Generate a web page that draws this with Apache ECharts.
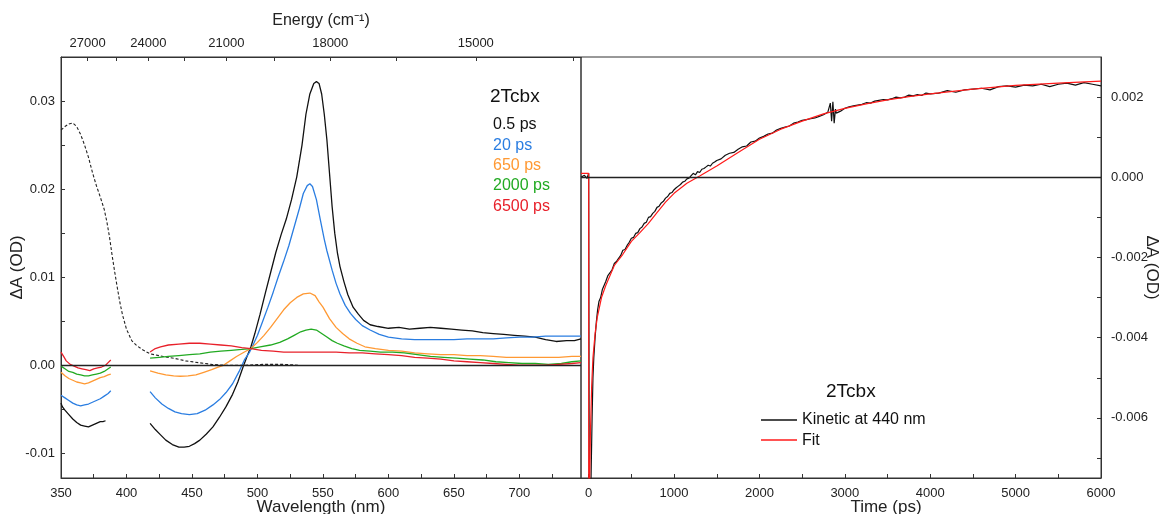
<!DOCTYPE html>
<html><head><meta charset="utf-8">
<script src="https://cdn.jsdelivr.net/npm/echarts@6/dist/echarts.min.js"></script>
<style>html,body{margin:0;padding:0;background:#fff}#c{width:1161px;height:514px}</style>
</head><body><div id="c"></div><script>
// ---------- tick labels ----------
const wlTicks = [350,400,450,500,550,600,650,700];
const wlMinor = [375,425,475,525,575,625,675,725];
const energyTicks = [27000,24000,21000,18000,15000];
const energyMinor = [25500,22500,19500,16500,13500];
const odTicksL = [-0.01,0,0.01,0.02,0.03];
const odMinorL = [-0.005,0.005,0.015,0.025];
const timeTicks = [0,1000,2000,3000,4000,5000,6000];
const timeMinor = [500,1500,2500,3500,4500,5500];
const odTicksR = [-0.006,-0.004,-0.002,0,0.002];
const odMinorR = [-0.007,-0.005,-0.003,-0.001,0.001];

// ---------- spectra (wavelength nm, dA OD) ----------
const delays = ['0.5 ps','20 ps','650 ps','2000 ps','6500 ps'];
const colors = ['#111111','#2a7de1','#ff9933','#22aa22','#e8202a'];

const s05_uv = [[350,-0.0043],[351,-0.0047],[353,-0.0051],[356,-0.0056],[359,-0.0061],[362,-0.0065],[365,-0.0068],[368,-0.0069],[371,-0.0070],[374,-0.0068],[377,-0.0066],[380,-0.0064],[382,-0.0064],[384,-0.0063]];
const s05_vis = [[418,-0.0066],[422,-0.0073],[426,-0.0079],[430,-0.0085],[435,-0.0090],[440,-0.0093],[444,-0.0093],[448,-0.0092],[452,-0.0089],[456,-0.0085],[461,-0.0078],[466,-0.0070],[471,-0.0059],[476,-0.0047],[481,-0.0033],[485,-0.0019],[489,-0.0002],[492,0.0010],[495,0.0021],[498,0.0036],[502,0.0058],[506,0.0082],[510,0.0105],[514,0.0128],[518,0.0148],[522,0.0166],[526,0.0188],[530,0.0214],[534,0.0250],[537,0.0285],[540,0.0308],[543,0.0320],[545,0.0322],[547,0.0320],[549,0.0308],[551,0.0285],[553,0.0256],[555,0.0218],[557,0.0180],[559,0.0150],[561,0.0128],[563,0.0112],[566,0.0095],[569,0.0080],[573,0.0066],[577,0.0058],[581,0.0051],[586,0.0046],[592,0.0044],[600,0.0042],[608,0.0043],[616,0.0041],[624,0.0042],[632,0.0043],[640,0.0042],[648,0.0041],[656,0.0040],[664,0.0039],[672,0.0037],[680,0.0036],[688,0.0035],[696,0.0034],[704,0.0033],[712,0.0032],[720,0.0029],[728,0.0027],[736,0.0028],[742,0.0028],[747,0.0030]];

const s20_uv = [[350,-0.0034],[353,-0.0037],[356,-0.0040],[359,-0.0043],[362,-0.0045],[365,-0.0046],[368,-0.0045],[371,-0.0044],[374,-0.0042],[377,-0.0040],[380,-0.0038],[383,-0.0035],[386,-0.0032],[388,-0.0029]];
const s20_vis = [[418,-0.0030],[422,-0.0037],[427,-0.0044],[432,-0.0049],[437,-0.0053],[442,-0.0055],[448,-0.0056],[454,-0.0055],[460,-0.0051],[466,-0.0045],[471,-0.0039],[476,-0.0031],[481,-0.0021],[486,-0.0007],[490,0.0006],[494,0.0015],[496,0.0021],[500,0.0034],[504,0.0050],[508,0.0066],[512,0.0083],[516,0.0101],[520,0.0118],[524,0.0136],[528,0.0157],[532,0.0178],[535,0.0195],[538,0.0204],[540,0.0206],[542,0.0203],[545,0.0188],[548,0.0165],[551,0.0143],[553,0.0130],[557,0.0108],[560,0.0093],[563,0.0081],[567,0.0068],[571,0.0059],[575,0.0052],[580,0.0045],[586,0.0040],[593,0.0035],[600,0.0032],[610,0.0030],[620,0.0029],[630,0.0029],[640,0.0029],[650,0.0029],[660,0.0030],[670,0.0030],[680,0.0030],[690,0.0031],[700,0.0032],[710,0.0032],[720,0.0033],[730,0.0033],[740,0.0033],[747,0.0033]];

const s650_uv = [[350,-0.0008],[353,-0.0012],[356,-0.0015],[359,-0.0017],[362,-0.0019],[365,-0.0020],[368,-0.0021],[371,-0.0020],[374,-0.0018],[377,-0.0016],[380,-0.0014],[383,-0.0013],[386,-0.0011],[388,-0.0010]];
const s650_vis = [[418,-0.00065],[424,-0.0009],[430,-0.0011],[436,-0.0012],[441,-0.00125],[447,-0.0012],[453,-0.0011],[459,-0.0008],[465,-0.0005],[470,-0.0002],[474,0.0000],[479,0.0005],[484,0.0010],[490,0.0015],[495,0.0019],[500,0.0026],[505,0.0034],[510,0.0043],[515,0.0053],[520,0.0063],[525,0.0071],[530,0.0077],[535,0.0081],[540,0.0082],[544,0.0079],[547,0.0072],[550,0.0066],[555,0.0053],[560,0.0043],[565,0.0036],[570,0.0030],[576,0.0025],[582,0.0021],[590,0.0019],[600,0.0017],[610,0.0016],[620,0.0014],[630,0.0013],[640,0.0012],[650,0.0012],[660,0.0011],[670,0.0011],[680,0.0010],[690,0.0009],[700,0.0009],[710,0.0009],[720,0.0009],[730,0.0009],[740,0.0010],[747,0.0010]];

const s2000_uv = [[350,-0.0001],[353,-0.0004],[356,-0.0007],[359,-0.0008],[362,-0.0010],[365,-0.0011],[368,-0.0012],[371,-0.0012],[374,-0.0011],[377,-0.0010],[380,-0.0009],[383,-0.0007],[386,-0.0004],[388,-0.0002]];
const s2000_vis = [[418,0.0008],[425,0.0009],[432,0.0010],[440,0.0011],[448,0.0012],[456,0.0013],[464,0.0015],[472,0.0016],[480,0.0017],[488,0.0018],[495,0.0019],[502,0.0021],[510,0.0023],[517,0.0026],[523,0.0030],[528,0.0034],[533,0.0038],[537,0.0040],[541,0.0041],[545,0.0040],[549,0.0036],[553,0.0032],[557,0.0028],[561,0.0025],[566,0.0022],[572,0.0019],[578,0.0017],[586,0.0016],[594,0.0015],[603,0.0015],[612,0.0014],[622,0.0012],[632,0.0010],[642,0.0009],[652,0.0008],[662,0.0007],[672,0.0006],[682,0.0004],[692,0.0003],[702,0.0002],[712,0.0002],[722,0.0001],[732,0.0002],[740,0.0004],[747,0.0005]];

const s6500_uv = [[350,0.0015],[352,0.0010],[354,0.0005],[357,0.0001],[360,-0.0001],[363,-0.0003],[366,-0.0004],[369,-0.0005],[372,-0.0006],[375,-0.0004],[378,-0.0003],[381,-0.0002],[384,0.0000],[386,0.0003],[388,0.0006]];
const s6500_vis = [[418,0.0015],[422,0.0019],[426,0.0021],[432,0.0023],[440,0.0024],[448,0.0025],[456,0.0025],[464,0.0024],[472,0.0023],[480,0.0022],[488,0.0020],[495,0.0019],[503,0.0017],[512,0.0016],[520,0.0015],[530,0.0015],[540,0.0015],[550,0.0015],[560,0.0015],[570,0.0014],[580,0.0014],[590,0.0013],[600,0.0012],[610,0.0011],[620,0.0009],[630,0.0008],[640,0.0007],[650,0.0005],[660,0.0004],[670,0.0003],[680,0.0002],[690,0.0001],[700,0.0000],[710,0.0000],[720,0.0000],[730,0.0001],[740,0.0002],[747,0.0003]];

const groundState = [[350,0.0267],[353,0.0271],[356,0.0274],[359,0.0275],[362,0.0271],[365,0.0262],[368,0.0250],[371,0.0236],[374,0.0219],[377,0.0204],[380,0.0191],[383,0.0177],[385,0.0163],[387,0.0146],[389,0.0125],[391,0.0106],[393,0.0088],[395,0.0071],[397,0.0057],[400,0.0041],[404,0.0028],[408,0.0022],[413,0.0017],[418,0.0013],[428,0.0010],[436,0.0008],[445,0.0005],[455,0.0003],[465,0.0001],[475,0.0000],[490,0.0000],[505,0.0001],[520,0.0001],[532,0.0000]];

// ---------- kinetic at 440 nm (ps, dA OD) ----------
const kinetic = [[-90,0],[-50,0.00005],[-20,-0.00003],[0,0.0001],[8,-0.0098],[20,-0.0085],[30,-0.0072],[40,-0.0060],[50,-0.0050],[60,-0.0045],[75,-0.0040],[90,-0.0036],[105,-0.0033],[120,-0.0031],[140,-0.0030],[160,-0.0028],[180,-0.0027],[200,-0.0026],[225,-0.00245],[250,-0.00238],[275,-0.0023],[300,-0.00215],[325,-0.0021],[350,-0.00202],[375,-0.00195],[400,-0.00182],[425,-0.0018],[450,-0.0017],[475,-0.00162],[500,-0.00152],[525,-0.0015],[550,-0.0014],[575,-0.00138],[600,-0.00128],[625,-0.00124],[650,-0.00115],[675,-0.00112],[700,-0.001],[725,-0.00098],[750,-0.0009],[775,-0.00085],[800,-0.00075],[825,-0.00072],[850,-0.00064],[875,-0.0006],[900,-0.00052],[925,-0.00048],[950,-0.0004],[975,-0.00038],[1000,-0.00031],[1025,-0.00026],[1050,-0.00022],[1075,-0.00018],[1100,-0.00012],[1125,-0.0001],[1150,-0.00004],[1175,-0.00002],[1200,0.00004],[1225,0.0001],[1250,0.00006],[1275,0.00014],[1300,0.00012],[1325,0.0002],[1350,0.00022],[1375,0.00026],[1400,0.0003],[1425,0.00028],[1450,0.00035],[1475,0.00038],[1500,0.00042],[1550,0.00046],[1600,0.00055],[1650,0.0006],[1700,0.00062],[1750,0.0007],[1800,0.00076],[1850,0.00078],[1900,0.00088],[1950,0.0009],[2000,0.00098],[2050,0.00102],[2100,0.00108],[2150,0.0011],[2200,0.00118],[2250,0.00122],[2300,0.00125],[2350,0.00128],[2400,0.00135],[2450,0.00138],[2500,0.00142],[2550,0.00144],[2600,0.00146],[2650,0.00148],[2700,0.00152],[2750,0.00156],[2800,0.00162],[2830,0.00185],[2845,0.0014],[2860,0.00188],[2875,0.00135],[2890,0.0017],[2900,0.0016],[2950,0.00165],[3000,0.00172],[3050,0.00176],[3100,0.00178],[3150,0.0018],[3200,0.00182],[3250,0.00186],[3300,0.00185],[3350,0.0019],[3400,0.00192],[3450,0.00194],[3500,0.00193],[3550,0.00196],[3600,0.002],[3650,0.00198],[3700,0.002],[3750,0.00205],[3800,0.00203],[3850,0.00206],[3900,0.00204],[3950,0.0021],[4000,0.00208],[4100,0.0021],[4200,0.00216],[4300,0.00212],[4400,0.00218],[4500,0.0022],[4600,0.00222],[4700,0.00218],[4800,0.00226],[4900,0.00228],[5000,0.00225],[5100,0.0023],[5200,0.00228],[5300,0.00232],[5400,0.00226],[5500,0.00232],[5600,0.00235],[5700,0.0023],[5800,0.00236],[5900,0.00232],[6000,0.00228]];
const fit = [[-90,0.0001],[0,0.0001],[1,-0.0100],[10,-0.0078],[20,-0.0064],[35,-0.0052],[50,-0.0045],[75,-0.0039],[100,-0.0035],[150,-0.0030],[200,-0.0027],[300,-0.0022],[400,-0.00192],[500,-0.0016],[600,-0.00138],[700,-0.00115],[800,-0.00088],[900,-0.00062],[1000,-0.0004],[1150,-0.00015],[1300,0.00003],[1500,0.00028],[1750,0.00062],[2000,0.00095],[2250,0.0012],[2500,0.0014],[2750,0.00158],[3000,0.00172],[3250,0.00183],[3500,0.00193],[3750,0.00201],[4000,0.00208],[4500,0.0022],[5000,0.00229],[5500,0.00235],[6000,0.0024]];

// ---------- chart ----------
const FONT = "'Liberation Sans', Arial, sans-serif";
const AX = '#333';
const chart = echarts.init(document.getElementById('c'), null, {renderer: 'canvas'});

function lineSeries(name, data, color, width, xi, yi, extra) {
  return Object.assign({
    name, type: 'line', data, xAxisIndex: xi, yAxisIndex: yi,
    symbol: 'none', smooth: false, clip: true, silent: true, animation: false,
    lineStyle: {color, width}
  }, extra || {});
}

const spectra = [[s05_uv, s05_vis],[s20_uv, s20_vis],[s650_uv, s650_vis],[s2000_uv, s2000_vis],[s6500_uv, s6500_vis]];
const series = [];
series.push(lineSeries('ground', groundState, '#222', 1.1, 0, 0, {lineStyle:{color:'#222', width:1.1, type:[3,2]},
  markLine: {silent: true, symbol: ['none','none'], label: {show:false}, animation:false,
    lineStyle: {color:'#222', width:1.4, type:'solid'}, data: [{yAxis: 0}]}}));
spectra.forEach((seg, i) => {
  series.push(lineSeries(delays[i], seg[0], colors[i], 1.3, 0, 0));
  series.push(lineSeries(delays[i], seg[1], colors[i], 1.3, 0, 0));
});
series.push(lineSeries('Kinetic at 440 nm', kinetic, '#111', 1.2, 2, 1, {
  markLine: {silent: true, symbol: ['none','none'], label: {show:false}, animation:false,
    lineStyle: {color:'#222', width:1.4, type:'solid'}, data: [{yAxis: 0}]}}));
series.push(lineSeries('Fit', fit, '#ff1a1a', 1.2, 2, 1));

const tickStyle = {inside: true, length: 4, lineStyle: {color: AX, width: 1}};
const labelStyle = {fontSize: 13, color: '#222', fontFamily: FONT};
const nameStyle = {fontSize: 17, color: '#222', fontFamily: FONT};

const option = {
  animation: false,
  backgroundColor: '#fff',
  grid: [
    {left: 61, top: 57, width: 520, height: 421, show: true, borderColor: AX, borderWidth: 1, containLabel: false, outerBoundsMode: 'none'},
    {left: 581, top: 57, width: 520, height: 421, show: true, borderColor: AX, borderWidth: 1, containLabel: false, outerBoundsMode: 'none'}
  ],
  xAxis: [
    {gridIndex: 0, type: 'value', min: 350, max: 747, position: 'bottom',
     axisLine: {show: true, onZero: false, lineStyle: {color: AX}},
     axisTick: Object.assign({}, tickStyle, {customValues: wlTicks.concat(wlMinor)}),
     axisLabel: Object.assign({}, labelStyle, {customValues: wlTicks, margin: 9}),
     splitLine: {show: false},
     name: 'Wavelength (nm)', nameLocation: 'middle', nameGap: 21, nameMoveOverlap: false, nameTextStyle: nameStyle},
    {gridIndex: 0, type: 'value', min: 350, max: 747, position: 'top',
     axisLine: {show: true, onZero: false, lineStyle: {color: AX}},
     axisTick: Object.assign({}, tickStyle, {customValues: energyTicks.concat(energyMinor).map(e => 1e7 / e)}),
     axisLabel: Object.assign({}, labelStyle, {customValues: energyTicks.map(e => 1e7 / e), margin: 7,
       formatter: v => String(Math.round(1e7 / v))}),
     splitLine: {show: false},
     name: 'Energy (cm\u207B\u00B9)', nameLocation: 'middle', nameGap: 28, nameMoveOverlap: false, nameTextStyle: Object.assign({}, nameStyle, {fontSize: 16})},
    {gridIndex: 1, type: 'value', min: -90, max: 6000, position: 'bottom',
     axisLine: {show: true, onZero: false, lineStyle: {color: AX}},
     axisTick: Object.assign({}, tickStyle, {customValues: timeTicks.concat(timeMinor)}),
     axisLabel: Object.assign({}, labelStyle, {customValues: timeTicks, margin: 9, formatter: v => String(Math.round(v))}),
     splitLine: {show: false},
     name: 'Time (ps)', nameLocation: 'middle', nameGap: 21, nameMoveOverlap: false, nameTextStyle: Object.assign({}, nameStyle, {padding: [0,0,0,90]})}
  ],
  yAxis: [
    {gridIndex: 0, type: 'value', min: -0.0128, max: 0.035, position: 'left',
     axisLine: {show: true, onZero: false, lineStyle: {color: AX}},
     axisTick: Object.assign({}, tickStyle, {customValues: odTicksL.concat(odMinorL)}),
     axisLabel: Object.assign({}, labelStyle, {customValues: odTicksL, margin: 6, formatter: v => v.toFixed(2)}),
     splitLine: {show: false},
     name: '\u0394A (OD)', nameLocation: 'middle', nameGap: 35, nameMoveOverlap: false, nameTextStyle: nameStyle},
    {gridIndex: 1, type: 'value', min: -0.0075, max: 0.003, position: 'right',
     axisLine: {show: true, onZero: false, lineStyle: {color: AX}},
     axisTick: Object.assign({}, tickStyle, {customValues: odTicksR.concat(odMinorR)}),
     axisLabel: Object.assign({}, labelStyle, {customValues: odTicksR, margin: 10, formatter: v => v.toFixed(3)}),
     splitLine: {show: false},
     name: '\u0394A (OD)', nameLocation: 'middle', nameGap: 42, nameRotate: -90, nameMoveOverlap: false, nameTextStyle: nameStyle}
  ],
  series,
  graphic: [
    {type: 'text', x: 490, y: 97, style: {text: '2Tcbx', fill: '#111', font: '19px ' + FONT, verticalAlign: 'middle'}},
    ...delays.map((d, i) => ({type: 'text', x: 493, y: 125 + i * 20.3,
      style: {text: d, fill: colors[i], font: '16px ' + FONT, verticalAlign: 'middle'}})),
    {type: 'text', x: 826, y: 392, style: {text: '2Tcbx', fill: '#111', font: '19px ' + FONT, verticalAlign: 'middle'}},
    {type: 'line', shape: {x1: 761, y1: 420, x2: 797, y2: 420}, style: {stroke: '#111', lineWidth: 1.3}},
    {type: 'text', x: 802, y: 420, style: {text: 'Kinetic at 440 nm', fill: '#111', font: '16px ' + FONT, verticalAlign: 'middle'}},
    {type: 'line', shape: {x1: 761, y1: 440, x2: 797, y2: 440}, style: {stroke: '#ff1a1a', lineWidth: 1.3}},
    {type: 'text', x: 802, y: 441, style: {text: 'Fit', fill: '#111', font: '16px ' + FONT, verticalAlign: 'middle'}}
  ]
};
chart.setOption(option);
</script></body></html>
